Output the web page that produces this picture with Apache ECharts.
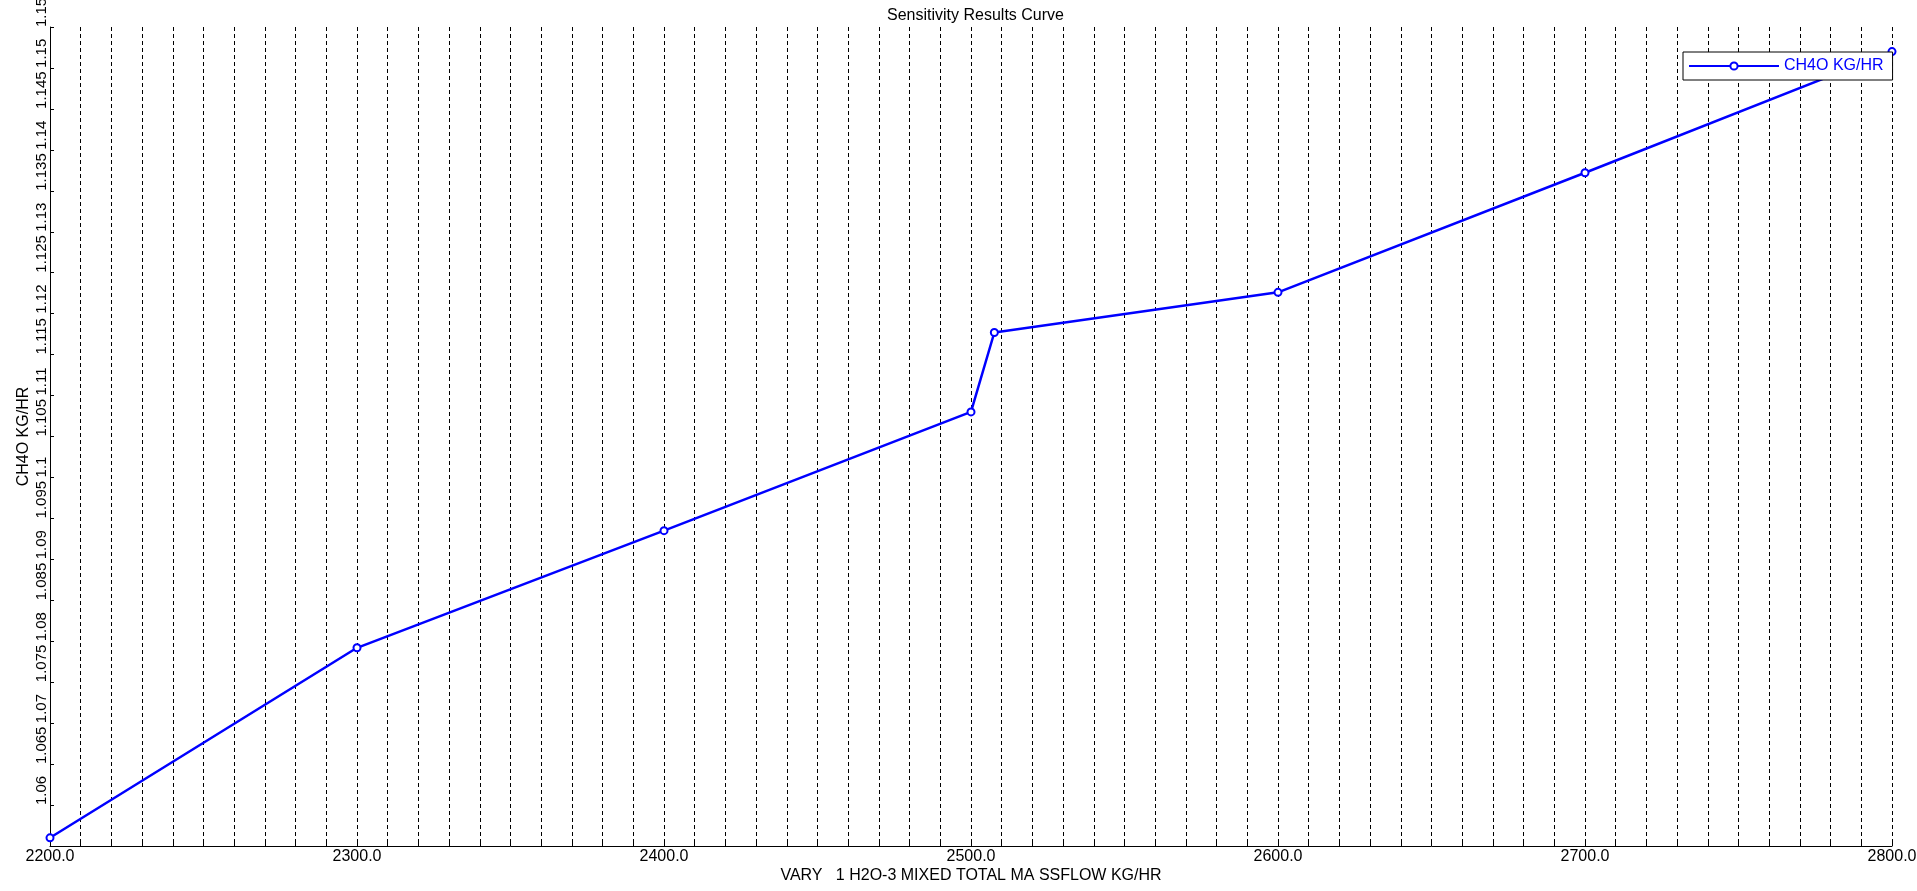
<!DOCTYPE html>
<html>
<head>
<meta charset="utf-8">
<title>Sensitivity Results Curve</title>
<script src="https://cdn.jsdelivr.net/npm/echarts@6.0.0/dist/echarts.min.js"></script>
<style>
    html, body {margin: 0; padding: 0; background: #fff;}
    #container {width: 1917px; height: 891px;}
</style>
</head>
<body>
<div id="container"></div>
<script>
//灵敏度数据
let xValues = [2200, 2300, 2400, 2500, 2507.6, 2600, 2700, 2800];
let ch4oValues = [1.0560, 1.0792, 1.0935, 1.1080, 1.1177, 1.1226, 1.1372, 1.1520];
let seriesName = 'CH4O KG/HR';
let xName = 'VARY   1 H2O-3 MIXED TOTAL MA SSFLOW KG/HR';
let yName = 'CH4O KG/HR';

let lineData = xValues.map(function (x, i) {
    return [x, ch4oValues[i]];
});

let fontFamily = '"Liberation Sans", Arial, sans-serif';
let dashStyle = {
    color: '#000',
    width: 1,
    type: [4, 3]
};

let dom = document.getElementById("container");
let myChart = echarts.init(dom);
let option = {
    animation: false,
    textStyle: {
        fontFamily: fontFamily,
        color: '#000'
    },
    title: {
        text: 'Sensitivity Results Curve',
        left: 882,
        top: 3,
        textStyle: {
            fontFamily: fontFamily,
            fontSize: 16,
            fontWeight: 'normal',
            color: '#000'
        }
    },
    legend: {
        data: [seriesName],
        left: 1683,
        top: 52,
        padding: [6, 9, 6, 5],
        itemWidth: 90,
        itemHeight: 9,
        backgroundColor: '#fff',
        borderColor: '#000',
        borderWidth: 1,
        borderRadius: 0,
        textStyle: {
            fontFamily: fontFamily,
            fontSize: 16,
            color: '#0000ff'
        }
    },
    grid: {
        left: 50,
        right: 25,
        top: 27,
        bottom: 45,
        containLabel: false,
        outerBoundsMode: 'none'
    },
    xAxis: {
        type: 'value',
        min: 2200,
        max: 2800,
        interval: 100,
        name: xName,
        nameLocation: 'middle',
        nameGap: 22,
        nameMoveOverlap: false,
        nameTextStyle: {
            fontFamily: fontFamily,
            fontSize: 16,
            color: '#000'
        },
        axisLine: {
            show: true,
            onZero: false,
            lineStyle: {color: '#000', width: 1}
        },
        axisTick: {
            show: true,
            inside: true,
            length: 4,
            lineStyle: {color: '#000'}
        },
        minorTick: {
            show: true,
            splitNumber: 10,
            length: 4,
            lineStyle: {color: '#000'}
        },
        axisLabel: {
            margin: 3,
            fontFamily: fontFamily,
            fontSize: 16,
            color: '#000',
            formatter: function (v) {
                return v.toFixed(1);
            }
        },
        splitLine: {
            show: true,
            lineStyle: dashStyle
        },
        minorSplitLine: {
            show: true,
            lineStyle: dashStyle
        }
    },
    yAxis: {
        type: 'value',
        min: 1.055,
        max: 1.155,
        interval: 0.005,
        name: yName,
        nameLocation: 'middle',
        nameGap: 18,
        nameRotate: 90,
        nameMoveOverlap: false,
        nameTextStyle: {
            fontFamily: fontFamily,
            fontSize: 16,
            color: '#000'
        },
        axisLine: {
            show: true,
            onZero: false,
            lineStyle: {color: '#000', width: 1}
        },
        axisTick: {
            show: true,
            inside: true,
            length: 4,
            lineStyle: {color: '#000'}
        },
        axisLabel: {
            rotate: 90,
            align: 'left',
            verticalAlign: 'bottom',
            margin: 1,
            showMinLabel: false,
            showMaxLabel: true,
            fontFamily: fontFamily,
            fontSize: 15,
            color: '#000',
            formatter: function (v) {
                return String(parseFloat(v.toFixed(3)));
            }
        },
        splitLine: {
            show: false
        }
    },
    series: [
        {
            name: seriesName,
            type: 'line',
            data: lineData,
            clip: false,
            symbol: 'emptyCircle',
            symbolSize: 7,
            color: '#0000ff',
            lineStyle: {
                color: '#0000ff',
                width: 2.5
            },
            itemStyle: {
                color: '#0000ff',
                borderColor: '#0000ff',
                borderWidth: 1
            }
        }
    ]
};
if (option && typeof option === "object") {
    myChart.setOption(option, true);
}
window.onresize = function () {
    myChart.resize();
}
</script>
</body>
</html>
